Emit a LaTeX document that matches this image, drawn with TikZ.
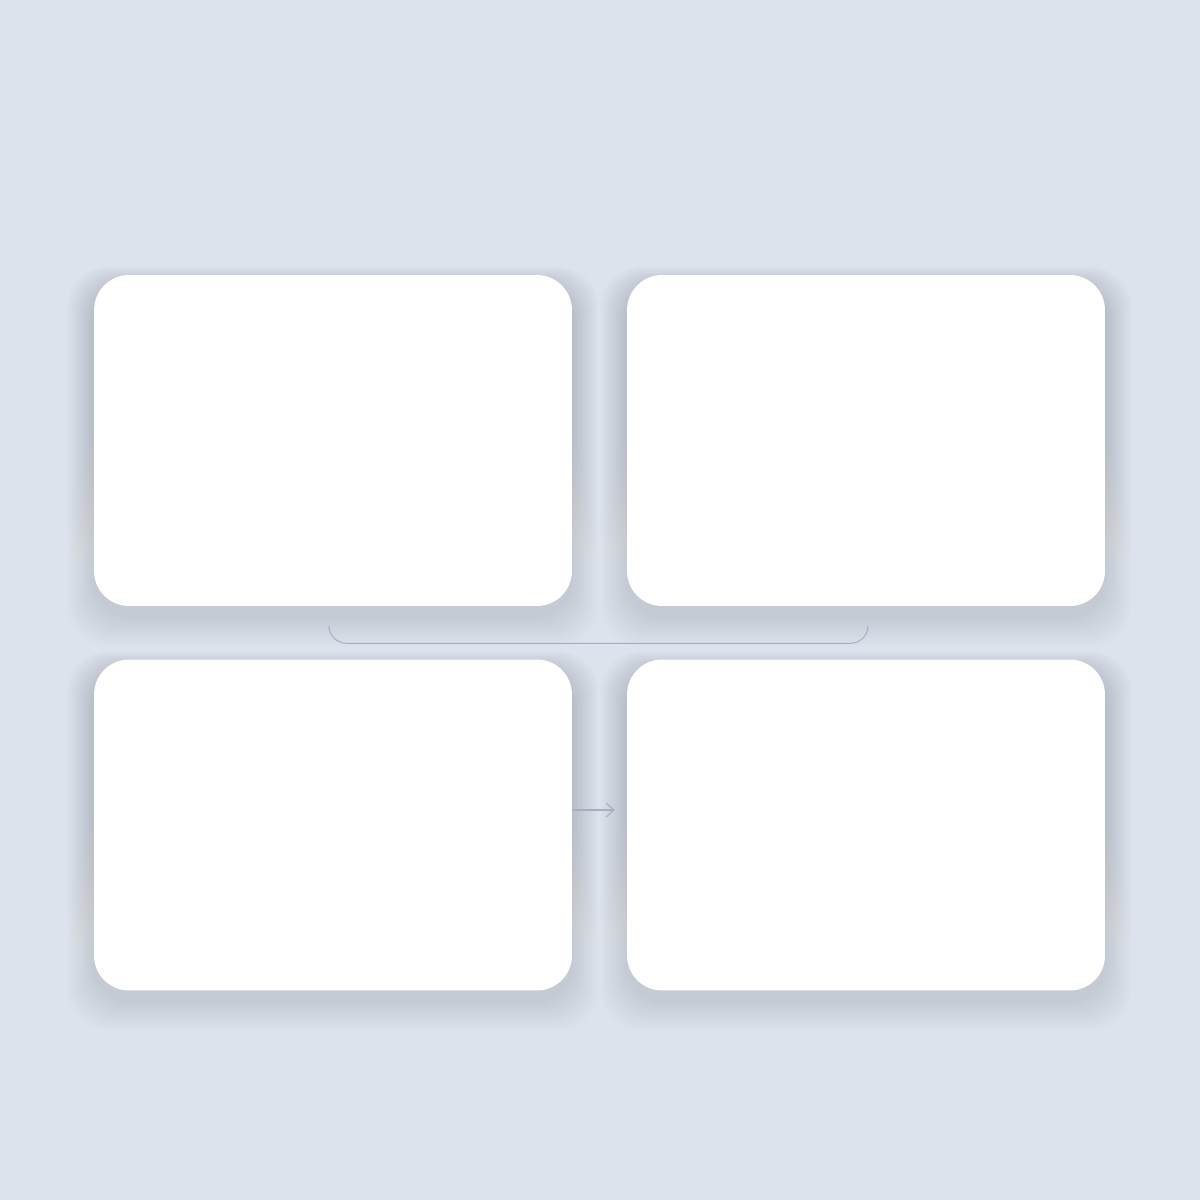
\documentclass[tikz,border=0pt]{standalone}
\usetikzlibrary{calc,arrows.meta}
\definecolor{bg}{RGB}{221,227,236}
\definecolor{shade}{RGB}{110,135,195}
\definecolor{connc}{RGB}{165,174,194}
\begin{document}
\begin{tikzpicture}[x=0.02cm,y=-0.02cm,
  card/.style={fill=white, draw=none, rounded corners=0.7cm, minimum width=9.56cm, minimum height=6.62cm, inner sep=0pt},
  connector/.style={draw=connc, line width=0.55pt},
  flowarrow/.style={draw=connc, line width=0.6pt, -{Straight Barb[length=4.5pt,width=8pt]}}]
\useasboundingbox (0,0) rectangle (1200,1200);
\fill[bg] (0,0) rectangle (1200,1200);
% soft shadows
\foreach \cx/\cy in {333/440.5, 866/440.5, 333/825, 866/825}{
  \foreach \i in {1,...,12}{
    \fill[shade, opacity=0.0085, rounded corners=0.8cm]
      ({\cx-239-\i*2.2},{\cy-165.5-\i*1.5+10}) rectangle ({\cx+239+\i*2.2},{\cy+165.5+\i*2.5+10});
  }
}
\node[card] (TL) at (333,440.5) {};
\node[card] (TR) at (866,440.5) {};
\node[card] (BL) at (333,825) {};
\node[card] (BR) at (866,825) {};
% bracket connector between rows
\draw[connector, rounded corners=10pt]
  ($(TL.south)+(-4,24)$) |- ($(TL.south)!0.5!(TR.south)+(0,37)$) -| ($(TR.south)+(2,24)$);
% arrow between bottom cards
\draw[flowarrow] ($(BL.east)+(0,-15)$) -- ($(BR.west)+(-12,-15)$);
\end{tikzpicture}
\end{document}
